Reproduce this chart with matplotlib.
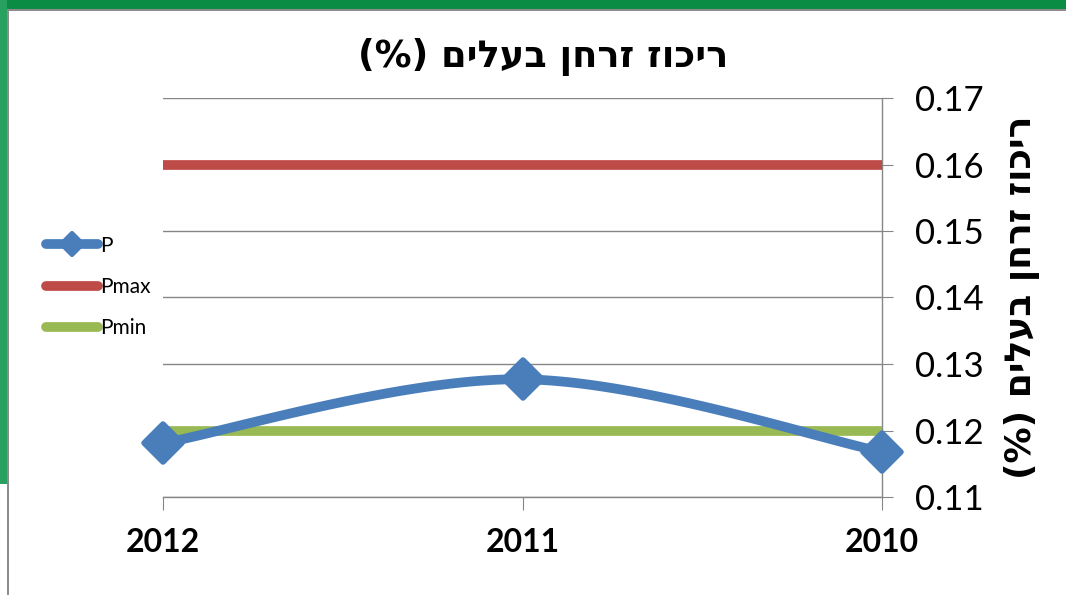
import numpy as np
import matplotlib
matplotlib.use("Agg")
import matplotlib.pyplot as plt
from matplotlib.patches import Rectangle
from matplotlib.lines import Line2D
from matplotlib.markers import MarkerStyle

# ---- data ----
years = ["2010", "2011", "2012"]          # axis is reversed (right-to-left)
p_values = [0.1168, 0.1277, 0.1181]
pmax_values = [0.16, 0.16, 0.16]
pmin_values = [0.12, 0.12, 0.12]
series_names = ["P", "Pmax", "Pmin"]
y_ticks = [0.11, 0.12, 0.13, 0.14, 0.15, 0.16, 0.17]
title_text = "(%) םילעב ןחרז זוכיר"   # visual order of "ריכוז זרחן בעלים (%)"

BLUE = "#4a7ebb"
RED = "#be4b48"
GREEN = "#98b954"
GRID = "#868686"

W, H = 1066, 595
fig = plt.figure(figsize=(W / 100, H / 100), dpi=100)
fig.patch.set_facecolor("white")

# slide frame decoration
fig.patches.append(Rectangle((0, 1 - 9 / H), 1, 9 / H, transform=fig.transFigure,
                             facecolor="#0a8c45", edgecolor="none", zorder=0))
fig.patches.append(Rectangle((0, 1 - 11 / H), 1, 2 / H, transform=fig.transFigure,
                             facecolor="#8c8c8c", edgecolor="none", zorder=0))
fig.patches.append(Rectangle((0, 1 - 484 / H), 7 / W, 484 / H, transform=fig.transFigure,
                             facecolor="#27a060", edgecolor="none", zorder=0))
fig.patches.append(Rectangle((7 / W, 0), 2 / W, 1 - 9 / H, transform=fig.transFigure,
                             facecolor="#8c8c8c", edgecolor="none", zorder=0))

ax = fig.add_axes([163 / W, 1 - 497 / H, (882 - 163) / W, (497 - 98) / H])
x = np.arange(len(years))


def smooth(xs, ys, n=60):
    pts = np.column_stack([xs, ys]).astype(float)
    out = []
    for i in range(len(pts) - 1):
        p0 = pts[i - 1] if i > 0 else pts[i]
        p1 = pts[i]
        p2 = pts[i + 1]
        p3 = pts[i + 2] if i + 2 < len(pts) else pts[i + 1]
        c1 = p1 + (p2 - p0) / 6
        c2 = p2 - (p3 - p1) / 6
        t = np.linspace(0, 1, n)[:, None]
        seg = ((1 - t) ** 3) * p1 + 3 * ((1 - t) ** 2) * t * c1 + 3 * (1 - t) * t ** 2 * c2 + t ** 3 * p2
        out.append(seg if i == 0 else seg[1:])
    s = np.vstack(out)
    return s[:, 0], s[:, 1]


diamond = MarkerStyle("D", joinstyle="round")

sx, sy = smooth(x, p_values)
ax.plot(sx, sy, color=BLUE, lw=7, solid_capstyle="round", clip_on=False, zorder=4)
ax.plot(x, p_values, ls="none", marker=diamond, ms=19, color=BLUE, mec=BLUE, mew=4,
        clip_on=False, zorder=5)
ax.plot(x, pmax_values, color=RED, lw=7, solid_capstyle="butt", clip_on=False, zorder=3)
ax.plot(x, pmin_values, color=GREEN, lw=7, solid_capstyle="butt", clip_on=False, zorder=3)

ax.set_xlim(len(years) - 1, 0)
ax.set_ylim(min(y_ticks), max(y_ticks))
ax.set_yticks(y_ticks)
ax.set_yticklabels([f"{v:.2f}" for v in y_ticks])
ax.set_xticks(x)
ax.set_xticklabels(years)

ax.yaxis.tick_right()
ax.grid(axis="y", color=GRID, lw=1.0)
ax.set_axisbelow(True)
for s in ["left", "top"]:
    ax.spines[s].set_visible(False)
for s in ["right", "bottom"]:
    ax.spines[s].set_color(GRID)
    ax.spines[s].set_linewidth(1.0)
ax.tick_params(axis="y", which="major", direction="out", length=8, color=GRID,
               pad=16, labelsize=25)
ax.tick_params(axis="x", which="major", direction="out", length=9, color=GRID,
               pad=13, labelsize=23)
for lab in ax.get_yticklabels():
    lab.set_family(["Lato", "DejaVu Sans"])
for lab in ax.get_xticklabels():
    lab.set_family(["Lato", "DejaVu Sans"])
    lab.set_fontweight("bold")

ax.set_ylabel(title_text, fontsize=26, fontweight="bold", rotation=90,
              family=["DejaVu Sans"], labelpad=14)
ax.yaxis.set_label_position("right")

fig.text(543 / W, 1 - 57 / H, title_text, ha="center", va="center", fontsize=26.5,
         fontweight="bold", family=["DejaVu Sans"])

handles = [
    Line2D([], [], color=BLUE, lw=7, marker=diamond, ms=11, mew=3, solid_capstyle="round"),
    Line2D([], [], color=RED, lw=7, solid_capstyle="round"),
    Line2D([], [], color=GREEN, lw=7, solid_capstyle="round"),
]
leg = fig.legend(handles, series_names, loc="upper left", bbox_to_anchor=(27 / W, 1 - 217 / H),
                 frameon=False, handlelength=2.5, handletextpad=0.1,
                 labelspacing=1.02, prop={"family": "Lato", "size": 15})

fig.savefig("out.png", dpi=100, facecolor="white")
